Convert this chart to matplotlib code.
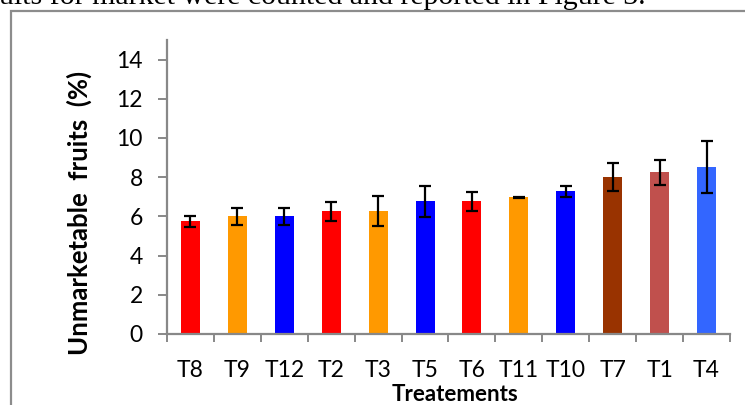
import matplotlib
matplotlib.use('Agg')
import matplotlib.pyplot as plt
from matplotlib.patches import Rectangle
import numpy as np

# data
treatments = ['T8', 'T9', 'T12', 'T2', 'T3', 'T5', 'T6', 'T11', 'T10', 'T7', 'T1', 'T4']
unmarketable = [5.75, 6.0, 6.0, 6.26, 6.26, 6.77, 6.77, 6.98, 7.28, 7.99, 8.25, 8.5]
errors = [0.27, 0.42, 0.42, 0.5, 0.76, 0.78, 0.48, 0.03, 0.27, 0.71, 0.64, 1.33]
bar_colors = ['#FF0000', '#FF9900', '#0000FF', '#FF0000', '#FF9900', '#0000FF',
              '#FF0000', '#FF9900', '#0000FF', '#993300', '#C0504D', '#3366FF']
y_ticks = [0, 2, 4, 6, 8, 10, 12, 14]

plt.rcParams['font.family'] = ['Lato', 'DejaVu Sans']
W, H = 745, 405
fig = plt.figure(figsize=(W / 100, H / 100), dpi=100)

# axes placement in pixels
left, right, bottom, top = 167, 730, 334, 40
ax = fig.add_axes([left / W, 1 - bottom / H, (right - left) / W, (bottom - top) / H])

x = np.arange(len(treatments))
ax.bar(x, unmarketable, width=0.405, color=bar_colors, zorder=2)
ax.errorbar(x, unmarketable, yerr=errors, fmt='none', ecolor='black',
            elinewidth=1.6, capsize=4.2, capthick=1.6, zorder=3)

ax.set_xlim(-0.5, len(treatments) - 0.5)
ax.set_ylim(0, 15)
ax.set_yticks(y_ticks)
ax.set_yticklabels([str(v) for v in y_ticks])

# ticks at category boundaries, labels in the middle
ax.set_xticks(np.arange(len(treatments) + 1) - 0.5)
ax.set_xticklabels([])
ax.set_xticks(x, minor=True)
ax.set_xticklabels(treatments, minor=True)
ax.tick_params(axis='x', which='major', direction='out', length=5.8, width=1.4, color='#888888')
ax.tick_params(axis='x', which='minor', length=0, pad=19, labelsize=16.5)
ax.tick_params(axis='y', direction='out', length=6.5, width=1.4, color='#888888', pad=11, labelsize=16.5)

for s in ['top', 'right']:
    ax.spines[s].set_visible(False)
for s in ['left', 'bottom']:
    ax.spines[s].set_color('#888888')
    ax.spines[s].set_linewidth(1.6)

fig.text(79 / W, 1 - 213 / H, 'Unmarketable  fruits  (%)', rotation=90, fontsize=18.5,
         fontweight='bold', ha='center', va='center')
fig.text(455 / W, 1 - 401 / H, 'Treatements', fontsize=16, fontweight='bold',
         ha='center', va='baseline')

# surrounding page text and chart frame
fig.text(-11 / W, 1 - 4.5 / H, 'ruits for market were counted and reported in Figure 3.',
         fontsize=21.5, family='Liberation Serif', ha='left', va='baseline')
fig.patches.append(Rectangle((11 / W, -0.1), 1.2, 1.1 - 11 / H, transform=fig.transFigure,
                             fill=False, edgecolor='#8c8c8c', linewidth=1.6))

fig.savefig('out.png', dpi=100)
